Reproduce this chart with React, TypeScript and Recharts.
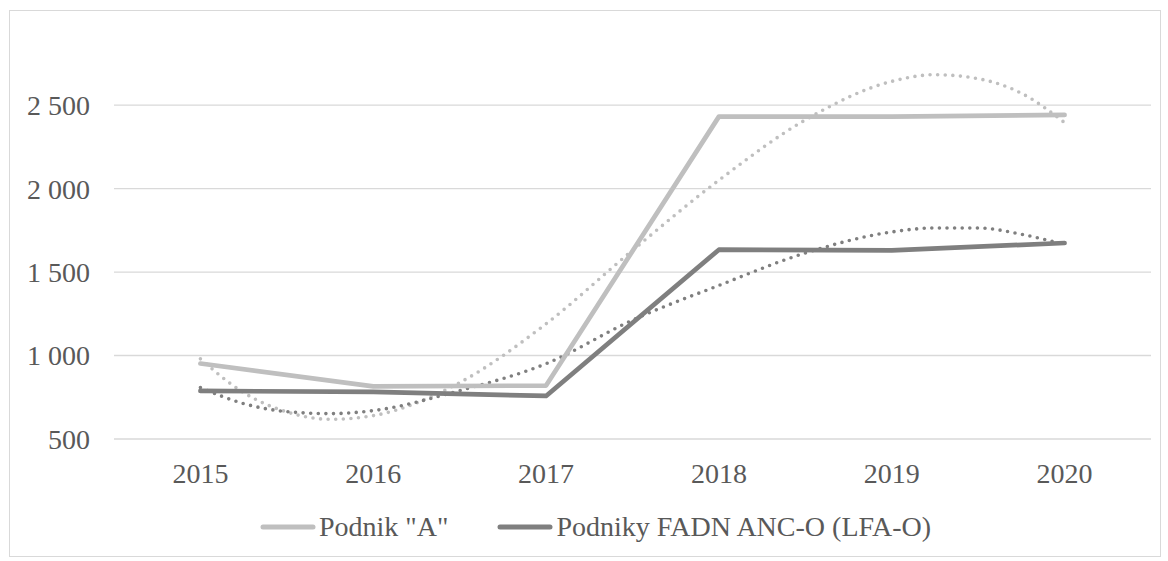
import React from "react";
import {
  LineChart,
  Line,
  XAxis,
  YAxis,
  CartesianGrid,
  Legend,
} from "recharts";

const years = [2015, 2016, 2017, 2018, 2019, 2020];
const podnikA = [952, 815, 820, 2431, 2431, 2441];
const podnikyFadn = [788, 782, 758, 1634, 1630, 1674];

// polynomial trend lines
const trendYears = [
  2015, 2015.25, 2015.5, 2015.75, 2016, 2016.5, 2017, 2017.5, 2018, 2018.5,
  2019, 2019.25, 2019.5, 2019.75, 2020,
];
const trendA = [
  980, 778, 662, 618, 640, 838, 1190, 1630, 2050, 2411, 2642, 2682, 2658, 2571,
  2395,
];
const trendFadn = [
  808, 712, 664, 652, 670, 790, 951, 1212, 1420, 1614, 1740, 1764, 1764, 1726,
  1665,
];

const yTicks = [500, 1000, 1500, 2000, 2500];

const LIGHT = "#BFBFBF";
const DARK = "#7F7F7F";
const TEXT = "#595959";
const FONT = "'Liberation Serif', 'Times New Roman', serif";

interface Row {
  year: number;
  podnikA?: number;
  podnikyFadn?: number;
  trendA?: number;
  trendFadn?: number;
}

const rows: Row[] = trendYears.map((year, i) => {
  const row: Row = { year, trendA: trendA[i], trendFadn: trendFadn[i] };
  const idx = years.indexOf(year);
  if (idx >= 0) {
    row.podnikA = podnikA[idx];
    row.podnikyFadn = podnikyFadn[idx];
  }
  return row;
});

const formatThousands = (v: number) =>
  v >= 1000
    ? `${Math.floor(v / 1000)} ${String(v % 1000).padStart(3, "0")}`
    : String(v);

const LegendContent = (props: any) => {
  const items = (props.payload || []).filter(
    (p: any) => !String(p.dataKey).startsWith("trend")
  );
  return (
    <div
      style={{
        display: "flex",
        alignItems: "center",
        paddingLeft: 250,
        paddingTop: 24,
        height: 28,
        fontFamily: FONT,
        fontSize: 28,
        color: TEXT,
      }}
    >
      {items.map((item: any, i: number) => (
        <div
          key={item.value}
          style={{
            display: "flex",
            alignItems: "center",
            marginRight: i === 0 ? 49 : 0,
          }}
        >
          <svg width={56} height={10} style={{ marginRight: 3 }}>
            <line
              x1={3}
              y1={5}
              x2={53}
              y2={5}
              stroke={item.color}
              strokeWidth={5}
              strokeLinecap="round"
            />
          </svg>
          <span style={{ whiteSpace: "nowrap" }}>{item.value}</span>
        </div>
      ))}
    </div>
  );
};

export default function App() {
  return (
    <div
      style={{
        position: "absolute",
        left: 9,
        top: 10,
        width: 1150,
        height: 545,
        border: "1px solid #d9d9d9",
        background: "#fff",
      }}
    >
      <LineChart
        width={1150}
        height={545}
        data={rows}
        margin={{ top: 44, right: 9, left: 0, bottom: 0 }}
      >
        <CartesianGrid
          vertical={false}
          horizontalValues={yTicks}
          stroke="#d9d9d9"
          strokeWidth={1.3}
        />
        <XAxis
          dataKey="year"
          type="number"
          domain={[2014.5, 2020.5]}
          ticks={years}
          axisLine={false}
          tickLine={false}
          tickSize={0}
          tickMargin={24}
          height={50}
          tick={{ fill: TEXT, fontSize: 28, fontFamily: FONT }}
        />
        <YAxis
          domain={[500, 2800]}
          ticks={yTicks}
          width={104}
          axisLine={false}
          tickLine={false}
          tickSize={0}
          tickMargin={24}
          tickFormatter={formatThousands}
          tick={{ fill: TEXT, fontSize: 28, fontFamily: FONT }}
        />
        <Legend
          verticalAlign="bottom"
          height={67}
          wrapperStyle={{ left: 0, width: 1150 }}
          content={<LegendContent />}
        />
        <Line
          type="monotone"
          dataKey="trendA"
          stroke={LIGHT}
          strokeWidth={3.6}
          strokeDasharray="0 7.6"
          strokeLinecap="round"
          dot={false}
          activeDot={false}
          isAnimationActive={false}
          legendType="none"
        />
        <Line
          type="monotone"
          dataKey="trendFadn"
          stroke={DARK}
          strokeWidth={3.6}
          strokeDasharray="0 7.6"
          strokeLinecap="round"
          dot={false}
          activeDot={false}
          isAnimationActive={false}
          legendType="none"
        />
        <Line
          type="linear"
          dataKey="podnikA"
          name={'Podnik "A"'}
          stroke={LIGHT}
          strokeWidth={4.7}
          strokeLinecap="round"
          strokeLinejoin="round"
          dot={false}
          activeDot={false}
          connectNulls
          isAnimationActive={false}
        />
        <Line
          type="linear"
          dataKey="podnikyFadn"
          name="Podniky FADN ANC-O (LFA-O)"
          stroke={DARK}
          strokeWidth={4.7}
          strokeLinecap="round"
          strokeLinejoin="round"
          dot={false}
          activeDot={false}
          connectNulls
          isAnimationActive={false}
        />
      </LineChart>
    </div>
  );
}
